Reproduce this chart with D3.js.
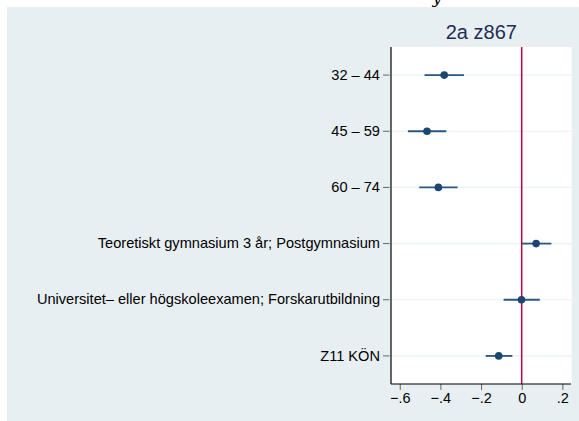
<!DOCTYPE html>
<html><head><meta charset="utf-8">
<script src="https://cdn.jsdelivr.net/npm/d3@7"></script>
<style>body{margin:0;background:#fff;overflow:hidden}svg{display:block}</style>
</head><body><div id="c"></div>
<script>
const categories = ["32 – 44","45 – 59","60 – 74","Teoretiskt gymnasium 3 år; Postgymnasium","Universitet– eller högskoleexamen; Forskarutbildning","Z11 KÖN"];
const estimates = [-0.381,-0.466,-0.410,0.071,-0.001,-0.113];
const ciLow = [-0.478,-0.560,-0.504,0.000,-0.089,-0.177];
const ciHigh = [-0.284,-0.371,-0.315,0.146,0.089,-0.046];
const xTicks = [-0.6,-0.4,-0.2,0,0.2];
const xTickLabels = ["−.6","−.4","−.2","0",".2"];
const title = "2a z867";

const W=579,H=421;
const svg=d3.select("#c").append("svg").attr("width",W).attr("height",H);
const font="'Liberation Sans', Arial, Helvetica, sans-serif";
svg.append("text").attr("x",437).attr("y",3).attr("text-anchor","middle")
  .attr("font-family","'DejaVu Serif', serif").attr("font-style","italic").attr("font-size",16).text("y");
svg.append("rect").attr("x",7).attr("y",7).attr("width",W-7).attr("height",H-7).attr("fill","#e8eff2");

const L=391,R=571.7,T=47,B=384;
const x=d3.scaleLinear().domain([-0.643,0.246]).range([L,R]);
const y=d3.scaleBand().domain(categories).range([T,B]).padding(0);
svg.append("rect").attr("x",L).attr("y",T).attr("width",R-L).attr("height",B-T).attr("fill","#fff");

const data=categories.map((c,i)=>({c,e:estimates[i],lo:ciLow[i],hi:ciHigh[i]}));
const cy=d=>y(d)+y.bandwidth()/2;
svg.append("g").selectAll("line").data(categories).join("line")
  .attr("x1",L).attr("x2",R).attr("y1",cy).attr("y2",cy).attr("stroke","#eaf2f3").attr("stroke-width",1.2);

svg.append("line").attr("x1",x(0)).attr("x2",x(0)).attr("y1",T).attr("y2",B).attr("stroke","#c10534").attr("stroke-width",1.5);

svg.append("g").selectAll("line").data(data).join("line")
  .attr("x1",d=>x(d.lo)).attr("x2",d=>x(d.hi)).attr("y1",d=>cy(d.c)).attr("y2",d=>cy(d.c))
  .attr("stroke","#2a5683").attr("stroke-width",1.8);
svg.append("g").selectAll("circle").data(data).join("circle")
  .attr("cx",d=>x(d.e)).attr("cy",d=>cy(d.c)).attr("r",3.8).attr("fill","#1a476f");

// y axis
const ya=svg.append("g").attr("transform",`translate(${L},0)`)
  .call(d3.axisLeft(y).tickSize(8).tickPadding(3));
ya.select(".domain").remove();
ya.selectAll(".tick line").attr("stroke","#666").attr("x1",-1.5).attr("x2",-8);
ya.selectAll(".tick text").attr("font-family",font).attr("font-size",14.6).attr("fill","#000");
svg.append("line").attr("x1",L).attr("x2",L).attr("y1",T).attr("y2",B).attr("stroke","#000").attr("stroke-width",1.2);

// x axis
const xa=svg.append("g").attr("transform",`translate(0,${B})`)
  .call(d3.axisBottom(x).tickValues(xTicks).tickFormat((d,i)=>xTickLabels[i]).tickSize(6).tickPadding(3));
xa.select(".domain").remove();
xa.selectAll(".tick line").attr("stroke","#666");
xa.selectAll(".tick text").attr("font-family",font).attr("font-size",14.5).attr("fill","#000");
svg.append("line").attr("x1",L).attr("x2",R-0.7).attr("y1",B).attr("y2",B).attr("stroke","#000").attr("stroke-width",1.2);

svg.append("text").attr("x",(L+R)/2).attr("y",39).attr("text-anchor","middle")
  .attr("font-family",font).attr("font-size",20).attr("fill","#1e2d53").text(title);
</script></body></html>
